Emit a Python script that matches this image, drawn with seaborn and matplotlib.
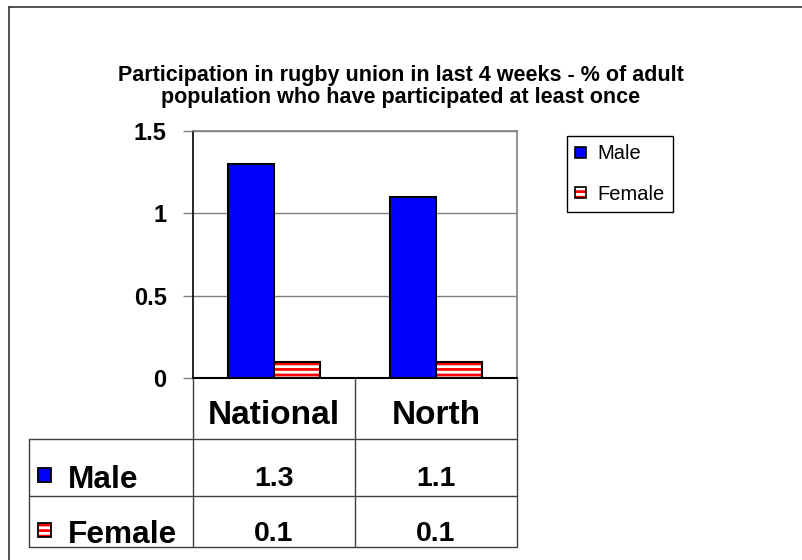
import matplotlib
matplotlib.use("Agg")
import matplotlib.pyplot as plt
import seaborn as sns
import pandas as pd
from matplotlib.patches import Patch, Rectangle
from matplotlib.lines import Line2D
from matplotlib.legend_handler import HandlerTuple

# ---- data ----
regions = ["National", "North"]
sexes = ["Male", "Female"]
male_values = [1.3, 1.1]
female_values = [0.1, 0.1]
y_ticks = [0, 0.5, 1, 1.5]
y_tick_labels = ["0", "0.5", "1", "1.5"]
title_lines = ["Participation in rugby union in last 4 weeks - % of adult",
               "population who have participated at least once"]

sns.set_style("white")
plt.rcParams["font.family"] = ["Liberation Sans", "DejaVu Sans"]
plt.rcParams["hatch.linewidth"] = 2.0
plt.rcParams["text.color"] = "black"
plt.rcParams["ytick.labelcolor"] = "black"

W, H = 803, 560
def fx(px):
    return px / W
def fy(py):
    return 1 - py / H

BLUE = "#0000FF"
RED = "#FF0000"

df = pd.DataFrame({
    "region": regions * 2,
    "sex": [sexes[0]] * len(regions) + [sexes[1]] * len(regions),
    "value": male_values + female_values,
})

fig = plt.figure(figsize=(W / 100, H / 100), dpi=100)
fig.patch.set_facecolor("white")

AX_L, AX_R, AX_T, AX_B = 193, 517, 131, 378
ax = fig.add_axes([fx(AX_L), fy(AX_B), (AX_R - AX_L) / W, (AX_B - AX_T) / H])

sns.barplot(data=df, x="region", y="value", hue="sex", order=regions,
            hue_order=sexes, palette={"Male": BLUE, "Female": "white"},
            width=0.568, edgecolor="black", linewidth=1.5, saturation=1,
            errorbar=None, legend=False, ax=ax)

# striped female bars
for bar in ax.containers[1]:
    bar.set_hatch("---")
    bar.set_edgecolor(RED)
    bar.set_linewidth(0)
    ax.add_patch(Rectangle((bar.get_x(), bar.get_y()), bar.get_width(),
                           bar.get_height(), fill=False, edgecolor="black",
                           linewidth=1.5, zorder=bar.get_zorder() + 0.1))

ax.set_xlim(-0.5, len(regions) - 0.5)
ax.set_ylim(0, 1.5)
ax.set_yticks(y_ticks)
ax.set_yticklabels(y_tick_labels, fontsize=17, fontweight="bold", color="black")
ax.set_xticks([])
ax.set_xlabel("")
ax.set_ylabel("")
ax.yaxis.grid(True, color="#808080", linewidth=1)
ax.set_axisbelow(True)
ax.tick_params(axis="y", length=7, width=1, color="#808080", pad=12, left=True)
for s in ["top", "right"]:
    ax.spines[s].set_color("#808080")
    ax.spines[s].set_linewidth(1.2)
ax.spines["left"].set_color("black")
ax.spines["left"].set_linewidth(1.2)
ax.spines["bottom"].set_color("black")
ax.spines["bottom"].set_linewidth(1.5)
for s in ax.spines.values():
    s.set_visible(True)

# ---- title ----
fig.text(fx(401), fy(75), title_lines[0], ha="center", va="center",
         fontsize=15.5, fontweight="bold", color="black")
fig.text(fx(401), fy(98), title_lines[1], ha="center", va="center",
         fontsize=15.5, fontweight="bold", color="black")

# ---- data table ----
TB = 547
tax = fig.add_axes([fx(AX_L), fy(TB), (AX_R - AX_L) / W, (TB - AX_B) / H])
tax.set_xlim(ax.get_xlim())
tax.set_ylim(TB - AX_B, 0)
tax.axis("off")
ppu = (AX_R - AX_L) / len(regions)  # pixels per category unit
def dx(px):
    return (px - AX_L) / ppu - 0.5

line_kw = dict(color="#404040", linewidth=1, clip_on=False)
x_left = dx(29)
x1 = len(regions) - 0.5
row_h = [61, 118, TB - AX_B]
for k in range(len(regions) + 1):
    tax.plot([k - 0.5, k - 0.5], [0, row_h[-1]], **line_kw)
for yv in row_h:
    tax.plot([x_left, x1], [yv, yv], **line_kw)
tax.plot([x_left, x_left], [row_h[0], row_h[-1]], **line_kw)

for i, r in enumerate(regions):
    tax.text(i, 46, r, ha="center", va="baseline", fontsize=24,
             fontweight="bold", clip_on=False, color="black")

series = [male_values, female_values]
val_baselines = [108, 163]
lab_baselines = [110, 165]
sq_centers = [97, 152]
sq_w, sq_h = 13, 14
for j, (name, vals) in enumerate(zip(sexes, series)):
    for i, v in enumerate(vals):
        tax.text(i, val_baselines[j], f"{v:.1f}", ha="center", va="baseline",
                 fontsize=20.5, fontweight="bold", clip_on=False, color="black")
    tax.text(dx(68), lab_baselines[j], name, ha="left", va="baseline",
             fontsize=22.8, fontweight="bold", clip_on=False, color="black")
    rx, ry = dx(38), sq_centers[j] - sq_h / 2
    if j == 0:
        tax.add_patch(Rectangle((rx, ry), sq_w / ppu, sq_h, facecolor=BLUE,
                                edgecolor="black", linewidth=1.3, clip_on=False))
    else:
        tax.add_patch(Rectangle((rx, ry), sq_w / ppu, sq_h, facecolor="white",
                                edgecolor=RED, hatch="---", linewidth=0,
                                clip_on=False))
        tax.add_patch(Rectangle((rx, ry), sq_w / ppu, sq_h, fill=False,
                                edgecolor="black", linewidth=1.3, clip_on=False))

# ---- legend ----
h_male = Patch(facecolor=BLUE, edgecolor="black", linewidth=1.2)
h_fem = (Patch(facecolor="white", edgecolor=RED, hatch="---", linewidth=0),
         Patch(fill=False, edgecolor="black", linewidth=1.2))
leg = fig.legend([h_male, h_fem], sexes, loc="upper left",
                 bbox_to_anchor=(fx(567), fy(136)), frameon=True,
                 fancybox=False, edgecolor="black", framealpha=1,
                 fontsize=14.5, handlelength=0.5, handleheight=0.5,
                 handletextpad=0.6, borderpad=0.42, labelspacing=1.05,
                 borderaxespad=0,
                 handler_map={tuple: HandlerTuple(ndivide=1, pad=0)})
leg.get_frame().set_linewidth(1)
for t in leg.get_texts():
    t.set_color("black")

# ---- outer border ----
fig.add_artist(Line2D([fx(8.5), fx(8.5)], [fy(6.5), 0], transform=fig.transFigure,
                      color="#333333", linewidth=1.2))
fig.add_artist(Line2D([fx(8.5), 1], [fy(6.5), fy(6.5)], transform=fig.transFigure,
                      color="#333333", linewidth=1.2))

fig.savefig("out.png", dpi=100)
